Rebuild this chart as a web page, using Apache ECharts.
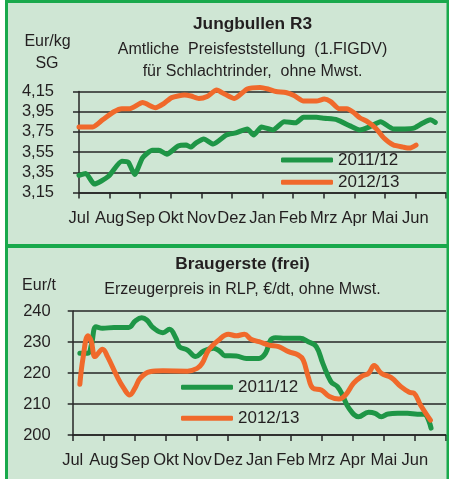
<!DOCTYPE html>
<html><head><meta charset="utf-8">
<script src="https://cdn.jsdelivr.net/npm/echarts@6/dist/echarts.min.js"></script>
<style>html,body{margin:0;padding:0;background:#fff}#c{width:449px;height:479px}</style>
</head><body><div id="c"></div>
<script>
// ---------- data ----------
const months = ['Jul','Aug','Sep','Okt','Nov','Dez','Jan','Feb','Mrz','Apr','Mai','Jun'];
const seriesNames = ['2011/12', '2012/13'];

// Jungbullen R3 (Eur/kg SG); x = months since start of July
const bullX2011 = [0,0.22,0.50,0.96,1.40,1.61,1.82,2.08,2.40,2.61,2.87,3.24,3.50,3.66,3.71,3.82,4.08,4.39,4.82,5.13,5.50,5.71,5.97,6.34,6.71,7.08,7.34,7.76,8.02,8.44,8.86,9.18,9.50,9.86,10.28,10.65,10.97,11.23,11.49,11.65];
const bullY2011 = [3.32,3.34,3.235,3.31,3.46,3.45,3.33,3.495,3.57,3.57,3.53,3.61,3.62,3.60,3.61,3.64,3.68,3.63,3.72,3.74,3.78,3.72,3.80,3.77,3.85,3.84,3.895,3.895,3.885,3.87,3.81,3.77,3.80,3.85,3.78,3.78,3.79,3.835,3.87,3.845];
const bullX2012 = [0,0.45,0.77,1.14,1.40,1.66,2.08,2.50,2.77,3.03,3.45,3.66,3.92,4.19,4.50,4.76,5.08,5.50,5.92,6.18,6.44,6.76,7.03,7.34,7.76,8.02,8.23,8.50,8.76,8.97,9.18,9.44,9.71,9.97,10.28,10.60,10.81,11.02];
const bullY2012 = [3.80,3.80,3.87,3.95,3.98,3.98,4.04,3.99,4.03,4.09,4.115,4.105,4.08,4.10,4.165,4.125,4.08,4.175,4.19,4.175,4.15,4.14,4.11,4.055,4.055,4.075,4.05,3.98,3.98,3.945,3.89,3.85,3.785,3.69,3.62,3.60,3.59,3.62];
const bullTicks = [3.15, 4.15, 0.2]; // min, max, step

// Braugerste (frei) (Eur/t)
const barleyX2011 = [0.23,0.49,0.60,0.75,0.96,1.33,1.80,2.01,2.22,2.38,2.59,2.90,3.11,3.32,3.43,3.69,3.95,4.21,4.53,4.74,4.89,5.26,5.58,5.99,6.20,6.36,6.52,6.83,7.31,7.57,7.83,8.04,8.30,8.51,8.67,8.88,9.19,9.51,9.72,9.92,10.14,10.45,10.76,11.08,11.29,11.52];
const barleyY2011 = [226.4,226.4,229,234.9,234.4,234.7,234.7,236.8,237.8,237.1,234.6,233,234.1,231.2,228.5,227.4,225.3,227.1,228,226.9,225.6,225.5,224.7,224.7,226.4,230.6,231.4,231.2,231.2,230.1,228.5,223.1,217.2,215.6,212.9,208.6,205.9,207.3,207,205.9,206.8,207,207,206.7,206.7,202.2];
const barleyX2012 = [0.23,0.33,0.49,0.60,0.72,0.96,1.12,1.43,1.64,1.83,2.01,2.17,2.48,2.90,3.69,4.00,4.16,4.37,4.69,5.00,5.26,5.52,5.73,5.99,6.31,6.62,6.94,7.25,7.41,7.57,7.72,7.99,8.25,8.56,8.77,9.03,9.30,9.51,9.69,9.92,10.24,10.55,10.82,10.97,11.18,11.50];
const barleyY2012 = [216.4,224.7,232,230.1,225.3,227.7,225.3,218.8,215.1,212.9,215.3,218.3,220.4,220.7,220.6,221.5,223.1,227.4,230.6,232.5,232,232.5,230.9,230.1,229,228.5,226.9,225.8,224.2,218.8,215.1,214.5,212.4,211.6,212.9,216.7,219,219.9,222.4,219.9,218.5,215.6,213.8,213.5,209.7,204.8];
const barleyTicks = [200, 240, 10];

// ---------- chart ----------
const FONT = '"Liberation Sans", Arial, sans-serif';
const TXT = '#231f20';
const AX = '#262626';
const GREEN = '#1e9646';
const ORANGE = '#f0692b';
const BG = '#cfe6d4';
const BORDER = '#19a94c';

function zip(xs, ys) { return xs.map((x, i) => [x, ys[i]]); }

function xAxisCfg(i, margin) {
  return {
    type: 'value', gridIndex: i, min: 0, max: 12, interval: 1,
    axisLine: { show: true, onZero: false, lineStyle: { color: AX, width: 1.5 } },
    axisTick: { show: true, length: 6, lineStyle: { color: AX, width: 1.5 } },
    splitLine: { show: false },
    axisLabel: {
      formatter: v => months[Math.round(v)] || '',
      color: TXT, fontSize: 16.5, fontFamily: FONT, margin: margin,
      showMinLabel: true, showMaxLabel: true
    }
  };
}
function yAxisCfg(i, t, fmt, margin, tickLen) {
  return {
    type: 'value', gridIndex: i, min: t[0], max: t[1], interval: t[2],
    axisLine: { show: true, onZero: false, lineStyle: { color: AX, width: 1.5 } },
    axisTick: { show: true, length: tickLen, lineStyle: { color: AX, width: 1.5 } },
    splitLine: { show: true, lineStyle: { color: AX, width: 1.5 } },
    axisLabel: { formatter: fmt, color: TXT, fontSize: 16.5, fontFamily: FONT, margin: margin }
  };
}
function lineSeries(name, xi, data, color, smooth) {
  return {
    type: 'line', name: name, xAxisIndex: xi, yAxisIndex: xi, data: data,
    symbol: 'none', smooth: smooth, clip: false,
    lineStyle: { color: color, width: 5, cap: 'round', join: 'round' },
    itemStyle: { color: color }, z: 3
  };
}
function legendCfg(left, top, gap) {
  return {
    left: left, top: top, orient: 'vertical', padding: 0,
    icon: 'roundRect', itemWidth: 52, itemHeight: 5, itemGap: gap,
    data: seriesNames, selectedMode: false,
    textStyle: { fontSize: 17, fontFamily: FONT, color: TXT }
  };
}
function txt(text, x, y, bold) {
  return {
    type: 'text', z: 50, style: {
      text: text, x: x, y: y, align: 'center', verticalAlign: 'middle',
      font: (bold ? 'bold 17.3px ' : '16px ') + FONT, fill: TXT
    }
  };
}

const option = {
  backgroundColor: BG,
  animation: false,
  grid: [
    { left: 79, top: 91.5, width: 380, height: 101.1 },
    { left: 72.7, top: 311, width: 382.4, height: 124 }
  ],
  xAxis: [xAxisCfg(0, 17), xAxisCfg(1, 17)],
  yAxis: [
    yAxisCfg(0, bullTicks, v => v.toFixed(2).replace('.', ','), 25, 6),
    yAxisCfg(1, barleyTicks, v => String(Math.round(v)), 22, 5)
  ],
  legend: [legendCfg(281, 151.5, 5.3), legendCfg(181, 378.8, 14)],
  series: [
    lineSeries(seriesNames[0], 0, zip(bullX2011, bullY2011), GREEN, 0.2),
    lineSeries(seriesNames[1], 0, zip(bullX2012, bullY2012), ORANGE, 0.2),
    lineSeries(seriesNames[0], 1, zip(barleyX2011, barleyY2011), GREEN, 0.4),
    lineSeries(seriesNames[1], 1, zip(barleyX2012, barleyY2012), ORANGE, 0.4)
  ],
  graphic: [
    { type: 'rect', z: 100, shape: { x: 0, y: 0, width: 5, height: 479 }, style: { fill: '#ffffff' } },
    { type: 'rect', z: 101, shape: { x: 6.5, y: 1.5, width: 441.5, height: 244 }, style: { fill: 'none', stroke: BORDER, lineWidth: 3 } },
    { type: 'rect', z: 101, shape: { x: 6.5, y: 246.5, width: 441.5, height: 240 }, style: { fill: 'none', stroke: BORDER, lineWidth: 3 } },
    txt('Jungbullen R3', 252.5, 24.5, true),
    txt('Amtliche  Preisfeststellung  (1.FIGDV)', 252.5, 50, false),
    txt('für Schlachtrinder,  ohne Mwst.', 252.5, 71.5, false),
    txt('Eur/kg', 47.5, 42, false),
    txt('SG', 47, 63.5, false),
    txt('Braugerste (frei)', 242.5, 264.5, true),
    txt('Erzeugerpreis in RLP, €/dt, ohne Mwst.', 242.5, 289.5, false),
    txt('Eur/t', 39, 286, false)
  ]
};

const chart = echarts.init(document.getElementById('c'), null, { renderer: 'canvas' });
chart.setOption(option);
</script>
</body></html>
